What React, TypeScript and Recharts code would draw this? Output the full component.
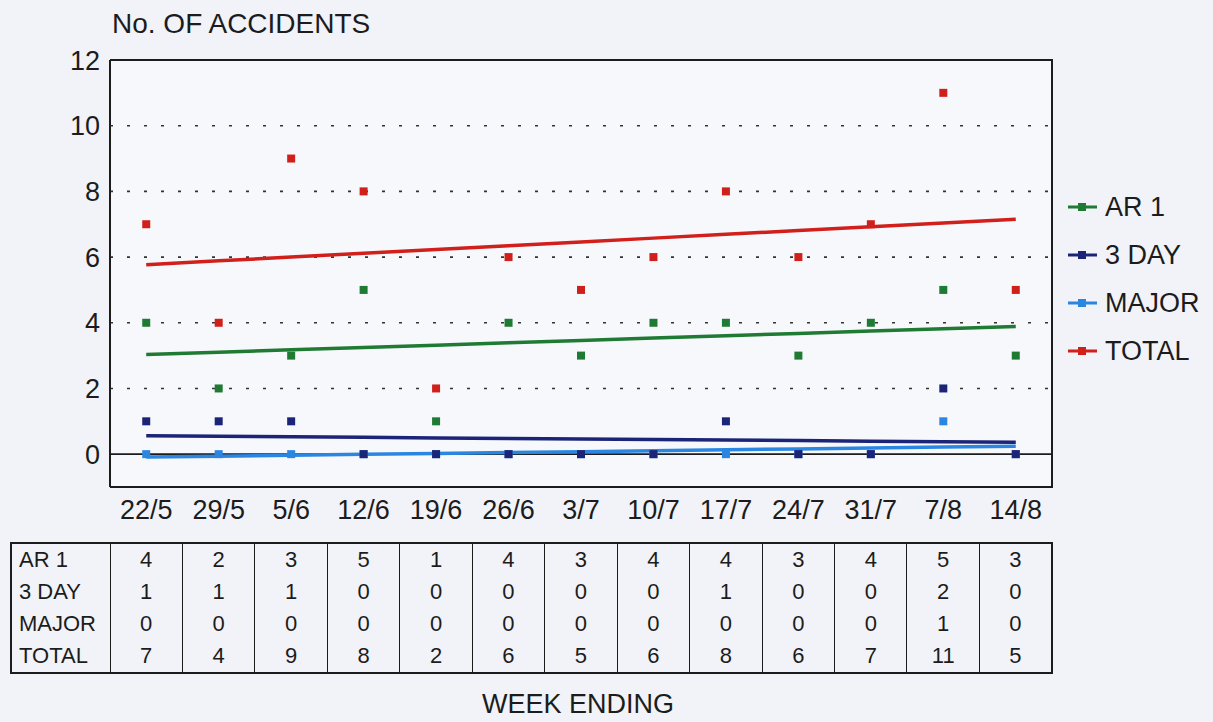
import React from "react"
import {
  ComposedChart,
  CartesianGrid,
  Line,
  Scatter,
  XAxis,
  YAxis,
  ReferenceLine,
} from "recharts"

// week ending dates
const weeks = ["22/5", "29/5", "5/6", "12/6", "19/6", "26/6", "3/7", "10/7", "17/7", "24/7", "31/7", "7/8", "14/8"]

// accidents per week
const ar1 = [4, 2, 3, 5, 1, 4, 3, 4, 4, 3, 4, 5, 3]
const threeDay = [1, 1, 1, 0, 0, 0, 0, 0, 1, 0, 0, 2, 0]
const major = [0, 0, 0, 0, 0, 0, 0, 0, 0, 0, 0, 1, 0]
const total = [7, 4, 9, 8, 2, 6, 5, 6, 8, 6, 7, 11, 5]

const yTicks = [0, 2, 4, 6, 8, 10, 12]
const gridValues = [2, 4, 6, 8, 10]

const COLORS = {
  ar1: "#1f7a34",
  threeDay: "#1c2478",
  major: "#2b86e2",
  total: "#d11f1c",
}

const FONT = '"Liberation Sans", Arial, Helvetica, sans-serif'
const INK = "#1c1c1c"

// least squares trend line through the weekly values
function trend(values: number[]) {
  const n = values.length
  const mx = (n - 1) / 2
  const my = values.reduce((a, b) => a + b, 0) / n
  let sxy = 0
  let sxx = 0
  values.forEach((v, i) => {
    sxy += (i - mx) * (v - my)
    sxx += (i - mx) * (i - mx)
  })
  const slope = sxy / sxx
  return values.map((_, i) => my + slope * (i - mx))
}

const ar1Trend = trend(ar1)
const threeDayTrend = trend(threeDay)
const majorTrend = trend(major)
const totalTrend = trend(total)

const data = weeks.map((week, i) => ({
  week,
  ar1: ar1[i],
  threeDay: threeDay[i],
  major: major[i],
  total: total[i],
  ar1Trend: ar1Trend[i],
  threeDayTrend: threeDayTrend[i],
  majorTrend: majorTrend[i],
  totalTrend: totalTrend[i],
}))

const legendItems = [
  { label: "AR 1", color: COLORS.ar1 },
  { label: "3 DAY", color: COLORS.threeDay },
  { label: "MAJOR", color: COLORS.major },
  { label: "TOTAL", color: COLORS.total },
]

const tableRows = [
  { label: "AR 1", values: ar1 },
  { label: "3 DAY", values: threeDay },
  { label: "MAJOR", values: major },
  { label: "TOTAL", values: total },
]

const colWidth = 942 / weeks.length

export default function App() {
  return (
    <div
      style={{
        position: "absolute",
        left: 0,
        top: 0,
        width: 1213,
        height: 722,
        background: "#f1f3f8",
        fontFamily: FONT,
        color: INK,
        overflow: "hidden",
      }}
    >
      <div style={{ position: "absolute", left: 112, top: 7, fontSize: 28, lineHeight: "34px" }}>
        No. OF ACCIDENTS
      </div>

      <div style={{ position: "absolute", left: 0, top: 0 }}>
        <ComposedChart
          width={1213}
          height={530}
          data={data}
          margin={{ top: 60, right: 161, bottom: 0, left: 10 }}
        >
          <CartesianGrid horizontal={false} vertical={false} fill="#f7f8fb" />
          {gridValues.map((v) => (
            <ReferenceLine key={v} y={v} stroke="#333" strokeWidth={1.6} strokeDasharray="3 14" />
          ))}
          <ReferenceLine y={0} stroke={INK} strokeWidth={1.6} />
          <ReferenceLine y={12} stroke={INK} strokeWidth={2} />
          <ReferenceLine y={-1} stroke={INK} strokeWidth={2} />
          <XAxis
            dataKey="week"
            height={43}
            padding={{ left: colWidth / 2, right: colWidth / 2 }}
            axisLine={false}
            tickLine={false}
            tickSize={0}
            tickMargin={13}
            interval={0}
            tick={{ fontSize: 27, fill: INK, fontFamily: FONT }}
          />
          <YAxis
            width={100}
            domain={[-1, 12]}
            ticks={yTicks}
            axisLine={{ stroke: INK, strokeWidth: 2 }}
            tickLine={false}
            tickSize={0}
            tickMargin={10}
            tick={{ fontSize: 27, fill: INK, fontFamily: FONT }}
          />
          <Line dataKey="majorTrend" stroke={COLORS.major} strokeWidth={3.5} dot={false} activeDot={false} isAnimationActive={false} />
          <Line dataKey="threeDayTrend" stroke={COLORS.threeDay} strokeWidth={3.5} dot={false} activeDot={false} isAnimationActive={false} />
          <Line dataKey="ar1Trend" stroke={COLORS.ar1} strokeWidth={3.5} dot={false} activeDot={false} isAnimationActive={false} />
          <Line dataKey="totalTrend" stroke={COLORS.total} strokeWidth={3.5} dot={false} activeDot={false} isAnimationActive={false} />
          <Scatter dataKey="major" fill={COLORS.major} shape="square" isAnimationActive={false} />
          <Scatter dataKey="threeDay" fill={COLORS.threeDay} shape="square" isAnimationActive={false} />
          <Scatter dataKey="ar1" fill={COLORS.ar1} shape="square" isAnimationActive={false} />
          <Scatter dataKey="total" fill={COLORS.total} shape="square" isAnimationActive={false} />
        </ComposedChart>
      </div>

      {/* right edge of the plot frame */}
      <div style={{ position: "absolute", left: 1051, top: 59, width: 2, height: 429, background: INK }} />

      {/* legend */}
      <div style={{ position: "absolute", left: 1067, top: 183 }}>
        {legendItems.map((item) => (
          <div key={item.label} style={{ display: "flex", alignItems: "center", height: 48 }}>
            <svg width={32} height={12} style={{ marginRight: 6 }}>
              <line x1={1} y1={6} x2={30} y2={6} stroke={item.color} strokeWidth={3} />
              <rect x={11} y={2} width={8} height={8} fill={item.color} />
            </svg>
            <span style={{ fontSize: 27 }}>{item.label}</span>
          </div>
        ))}
      </div>

      {/* data table */}
      <table
        style={{
          position: "absolute",
          left: 10,
          top: 542,
          width: 1042,
          borderCollapse: "collapse",
          tableLayout: "fixed",
          border: `2px solid ${INK}`,
          fontSize: 22,
          fontFamily: FONT,
          color: INK,
        }}
      >
        <colgroup>
          <col style={{ width: 99 }} />
          {weeks.map((w) => (
            <col key={w} style={{ width: colWidth }} />
          ))}
        </colgroup>
        <tbody>
          {tableRows.map((row) => (
            <tr key={row.label} style={{ height: 32 }}>
              <td style={{ padding: "0 0 0 7px", textAlign: "left", lineHeight: "32px", borderRight: `1.5px solid ${INK}` }}>
                {row.label}
              </td>
              {row.values.map((v, i) => (
                <td
                  key={i}
                  style={{
                    padding: 0,
                    textAlign: "center",
                    lineHeight: "32px",
                    borderRight: i < row.values.length - 1 ? `1.5px solid ${INK}` : "none",
                  }}
                >
                  {v}
                </td>
              ))}
            </tr>
          ))}
        </tbody>
      </table>

      <div style={{ position: "absolute", left: 482, top: 688, fontSize: 27, lineHeight: "32px" }}>
        WEEK ENDING
      </div>
    </div>
  )
}
